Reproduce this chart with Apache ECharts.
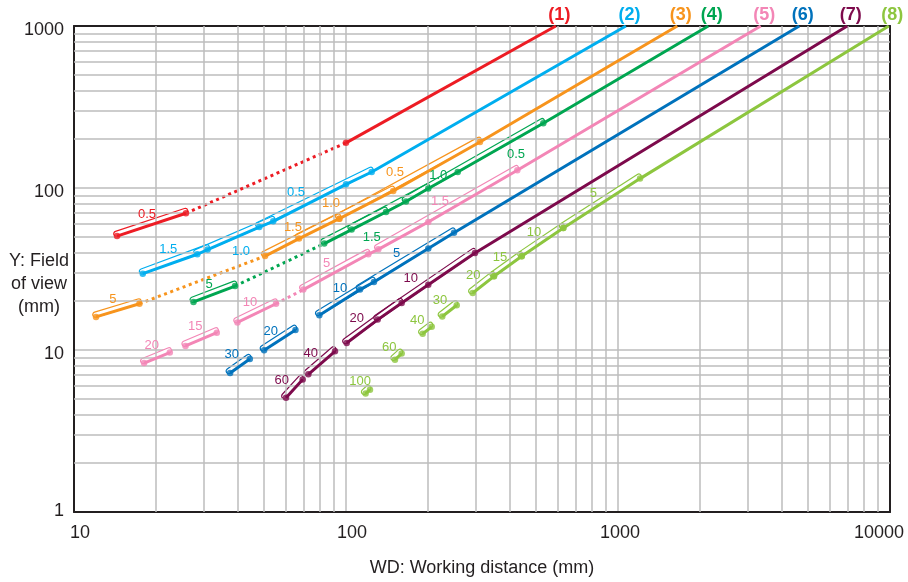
<!DOCTYPE html>
<html>
<head>
<meta charset="utf-8">
<script src="https://cdn.jsdelivr.net/npm/echarts@6/dist/echarts.min.js"></script>
<style>html,body{margin:0;padding:0;background:#fff}#c{width:908px;height:582px}</style>
</head>
<body>
<div id="c"></div>
<script>
// ---------- data ----------
const lensNames = ['(1)', '(2)', '(3)', '(4)', '(5)', '(6)', '(7)', '(8)'];
const xTicks = [10, 100, 1000, 10000];
const xTickLabels = ['10', '100', '1000', '10000'];
const yTicks = [1, 10, 100, 1000];
const yTickLabels = ['1', '10', '100', '1000'];
const xMinorTicks = [20, 30, 40, 50, 60, 70, 80, 90, 200, 300, 400, 500, 600, 700, 800, 900, 2000, 3000, 4000, 5000, 6000, 7000, 8000, 9000];
const yMinorTicks = [2, 3, 4, 5, 6, 7, 8, 9, 20, 30, 40, 50, 60, 70, 80, 90, 200, 300, 400, 500, 600, 700, 800, 900];

// solid runs: [lens, [[WD, FOV], ...]]
const solidRuns = [
  [0, [[14.4, 50.5], [25.8, 69.8]]],
  [0, [[100, 190], [591, 1000]]],
  [1, [[17.9, 29.6], [28.4, 39.0], [31.0, 41.7], [48.0, 57.4], [54.0, 62.3], [100, 105.4], [124.3, 125.5], [1069, 1000]]],
  [2, [[12.05, 16.0], [17.4, 19.3]]],
  [2, [[50.4, 38.0], [67.2, 48.7], [94.5, 64.7], [149.2, 95.8], [310.8, 192.3], [1652, 1000]]],
  [3, [[27.5, 19.8], [39.1, 24.8]]],
  [3, [[83.2, 45.4], [104.9, 55.4], [140.3, 71.1], [166.2, 82.5], [200.7, 99.2], [257.5, 125.5], [531.2, 250.8], [2148, 1000]]],
  [4, [[18.1, 8.3], [22.5, 9.64]]],
  [4, [[25.7, 10.6], [33.5, 12.8]]],
  [4, [[39.9, 14.8], [55.3, 19.3]]],
  [4, [[69.7, 23.6], [120.8, 39.0], [131.5, 41.8], [200.7, 61.7], [426.4, 128.6], [3347, 1000]]],
  [5, [[37.5, 7.21], [44.3, 8.8]]],
  [5, [[50.0, 9.96], [65.2, 13.3]]],
  [5, [[79.8, 16.4], [112.6, 23.6], [126.7, 26.3], [200.7, 42.3], [249.5, 53.0], [4640, 1000]]],
  [6, [[60.2, 5.08], [69.3, 6.57]]],
  [6, [[72.7, 7.08], [91.1, 9.82]]],
  [6, [[100.6, 11.05], [130.8, 15.4], [160.2, 19.5], [200.7, 25.3], [298, 39.7], [6966, 1000]]],
  [7, [[118.1, 5.38], [122.5, 5.69]]],
  [7, [[151.4, 8.72], [160.2, 9.5]]],
  [7, [[191.4, 12.6], [206.6, 13.9]]],
  [7, [[225.9, 16.1], [255.3, 18.9]]],
  [7, [[292.3, 22.5], [350, 28.5], [442.6, 37.9], [629.5, 56.6], [1205, 114.3], [9900, 1000]]]
];

// dotted runs: [lens, [[WD, FOV], ...]]
const dottedRuns = [
  [0, [[25.8, 69.8], [100, 190]]],
  [2, [[17.4, 19.3], [50.4, 38.0]]],
  [3, [[39.1, 24.8], [83.2, 45.4]]],
  [4, [[55.3, 19.3], [69.7, 23.6]]]
];

// extension tube ranges: [lens, WD1, FOV1, WD2, FOV2, label, labelWD, labelFOV]
const tubes = [
  [0, 14.4, 50.5, 25.8, 69.8, '0.5', 18.55, 68.8],
  [1, 17.9, 29.6, 31.0, 41.7, '1.5', 22.2, 41.7],
  [1, 28.4, 39.0, 54.0, 62.3, '1.0', 41.1, 40.8],
  [1, 48.0, 57.4, 124.3, 125.5, '0.5', 65.5, 93.7],
  [2, 12.05, 16.0, 17.4, 19.3, '5', 13.9, 20.6],
  [2, 50.4, 38.0, 94.5, 64.7, '1.5', 63.8, 57.0],
  [2, 67.2, 48.7, 149.2, 95.8, '1.0', 88.1, 80.5],
  [2, 94.5, 64.7, 310.8, 192.3, '0.5', 151.4, 124.1],
  [3, 27.5, 19.8, 39.1, 24.8, '5', 31.4, 25.4],
  [3, 83.2, 45.4, 140.3, 71.1, '1.5', 124.3, 49.8],
  [3, 104.9, 55.4, 200.7, 99.2, '1.0', 218.4, 119.8],
  [3, 166.2, 82.5, 531.2, 250.8, '0.5', 421.7, 161.4],
  [4, 18.1, 8.3, 22.5, 9.64, '20', 19.3, 10.6],
  [4, 25.7, 10.6, 33.5, 12.8, '15', 27.9, 13.9],
  [4, 39.9, 14.8, 55.3, 19.3, '10', 44.4, 19.8],
  [4, 69.7, 23.6, 120.8, 39.0, '5', 84.9, 34.1],
  [4, 131.5, 41.8, 426.4, 128.6, '1.5', 221.6, 83.2],
  [5, 37.5, 7.21, 44.3, 8.8, '30', 38.0, 9.41],
  [5, 50.0, 9.96, 65.2, 13.3, '20', 52.9, 13.1],
  [5, 79.8, 16.4, 126.7, 26.3, '10', 95.0, 23.9],
  [5, 112.6, 23.6, 249.5, 53.0, '5', 153.6, 39.7],
  [6, 60.2, 5.08, 69.3, 6.57, '60', 58.0, 6.5],
  [6, 72.7, 7.08, 91.1, 9.82, '40', 74.2, 9.58],
  [6, 100.6, 11.05, 160.2, 19.5, '20', 109.5, 15.6],
  [6, 130.8, 15.4, 298, 39.7, '10', 172.9, 27.6],
  [7, 118.1, 5.38, 122.5, 5.69, '100', 112.6, 6.44],
  [7, 151.4, 8.72, 160.2, 9.5, '60', 144.3, 10.4],
  [7, 191.4, 12.6, 206.6, 13.9, '40', 182.9, 15.3],
  [7, 225.9, 16.1, 255.3, 18.9, '30', 221.6, 20.1],
  [7, 292.3, 22.5, 350, 28.5, '20', 293.8, 28.9],
  [7, 350, 28.5, 442.6, 37.9, '15', 368.4, 37.5],
  [7, 442.6, 37.9, 629.5, 56.6, '10', 491.2, 52.9],
  [7, 629.5, 56.6, 1205, 114.3, '5', 811.4, 92.3]
];

// other marked points: [lens, WD, FOV]
const extraDots = [
  [0, 100, 190], [1, 100, 105.4], [3, 257.5, 125.5],
  [4, 200.7, 61.7], [5, 200.7, 42.3], [6, 200.7, 25.3]
];

// ---------- style ----------
const lensColors = ['#ed1c24', '#00aeef', '#f7941d', '#00a651', '#f386b6', '#0072bc', '#7d0a4c', '#8dc63f'];
const FONT = '"Liberation Sans", Arial, Helvetica, sans-serif';
const INK = '#231f20';
const GRIDC = '#bdbdbd';
const PILL_H = 5.2, PILL_OFF = 2.4, PILL_EXT = 2.6;

function pillGeom(api, t) {
  const p1 = api.coord([t[1], t[2]]);
  const p2 = api.coord([t[3], t[4]]);
  const dx = p2[0] - p1[0], dy = p2[1] - p1[1];
  const len = Math.sqrt(dx * dx + dy * dy);
  return {
    x: p1[0], y: p1[1], rotation: -Math.atan2(dy, dx),
    shape: { x: -PILL_EXT, y: -PILL_OFF - PILL_H / 2, width: len + 2 * PILL_EXT, height: PILL_H, r: PILL_H / 2 }
  };
}

const series = [];

// minor grid lines
series.push({
  type: 'line', data: [[10, 1]], showSymbol: false, lineStyle: { width: 0 }, silent: true, z: 1,
  markLine: {
    silent: true, symbol: ['none', 'none'], label: { show: false }, animation: false,
    lineStyle: { color: GRIDC, width: 1.5, type: 'solid' },
    emphasis: { disabled: true },
    data: xMinorTicks.map(v => ({ xAxis: v })).concat(yMinorTicks.map(v => ({ yAxis: v })))
  }
});

const tubeData = tubes.map(t => [t[1], t[2], t[3], t[4]]);
// pill fills
series.push({
  type: 'custom', z: 2, silent: true, data: tubeData, encode: { x: [0, 2], y: [1, 3] },
  renderItem: function (params, api) {
    const g = pillGeom(api, tubes[params.dataIndex]);
    return Object.assign({ type: 'rect', style: { fill: '#ffffff', stroke: null } }, g);
  }
});
// pill outlines
series.push({
  type: 'custom', z: 3, silent: true, data: tubeData, encode: { x: [0, 2], y: [1, 3] },
  renderItem: function (params, api) {
    const t = tubes[params.dataIndex];
    const g = pillGeom(api, t);
    return Object.assign({ type: 'rect', style: { fill: null, stroke: lensColors[t[0]], lineWidth: 1.2 } }, g);
  }
});

// dotted runs
dottedRuns.forEach(r => {
  series.push({
    type: 'line', data: r[1], showSymbol: false, silent: true, z: 4,
    lineStyle: { color: lensColors[r[0]], width: 3, type: [3, 3.6] }
  });
});

// solid runs
solidRuns.forEach(r => {
  series.push({
    type: 'line', data: r[1], showSymbol: false, silent: true, z: 5,
    lineStyle: { color: lensColors[r[0]], width: 3 }
  });
});

// dots
const dotData = [];
tubes.forEach(t => {
  dotData.push({ value: [t[1], t[2]], itemStyle: { color: lensColors[t[0]] } });
  dotData.push({ value: [t[3], t[4]], itemStyle: { color: lensColors[t[0]] } });
});
extraDots.forEach(d => dotData.push({ value: [d[1], d[2]], itemStyle: { color: lensColors[d[0]] } }));
series.push({ type: 'scatter', data: dotData, symbol: 'circle', symbolSize: 6.5, silent: true, z: 6 });

// tube labels
series.push({
  type: 'custom', z: 7, silent: true, data: tubes.map(t => [t[6], t[7]]),
  renderItem: function (params, api) {
    const t = tubes[params.dataIndex];
    const p = api.coord([api.value(0), api.value(1)]);
    return {
      type: 'text', x: p[0], y: p[1],
      style: { text: t[5], fill: lensColors[t[0]], font: '13px ' + FONT, align: 'center', verticalAlign: 'middle' }
    };
  }
});

// lens name labels at the end of each lens line
const lensEnds = lensNames.map((n, i) => {
  const runs = solidRuns.filter(r => r[0] === i);
  const pts = runs[runs.length - 1][1];
  return pts[pts.length - 1];
});
series.push({
  type: 'custom', z: 7, silent: true, data: lensEnds,
  renderItem: function (params, api) {
    const p = api.coord([api.value(0), api.value(1)]);
    return {
      type: 'text', x: p[0] + 3.5, y: p[1] - 11,
      style: { text: lensNames[params.dataIndex], fill: lensColors[params.dataIndex], font: 'bold 18px ' + FONT, align: 'center', verticalAlign: 'middle' }
    };
  }
});

const axisCommon = {
  type: 'log', logBase: 10,
  axisTick: { show: false },
  axisLine: { show: true, onZero: false, lineStyle: { color: INK, width: 2 } },
  splitLine: { show: true, showMinLine: false, showMaxLine: false, lineStyle: { color: GRIDC, width: 1.5 } },
  minorTick: { show: false }, minorSplitLine: { show: false }
};

const tickText = { color: INK, fontSize: 18, fontFamily: FONT };
const xRich = {
  x0: Object.assign({ padding: [0, 0, 0, 12] }, tickText),
  x1: Object.assign({ padding: [0, 0, 0, 12] }, tickText),
  x2: Object.assign({ padding: [0, 0, 0, 4] }, tickText),
  x3: Object.assign({ padding: [0, 22, 0, 0] }, tickText)
};
const yRich = {
  y0: Object.assign({ padding: [0, 0, 2, 0] }, tickText),
  y1: Object.assign({ padding: [8, 0, 0, 0] }, tickText),
  y2: Object.assign({ padding: [8, 0, 0, 0] }, tickText),
  y3: Object.assign({ padding: [8, 0, 0, 0] }, tickText)
};
function nearestIdx(arr, v) {
  let best = 0;
  arr.forEach((a, i) => { if (Math.abs(Math.log10(a) - Math.log10(v)) < Math.abs(Math.log10(arr[best]) - Math.log10(v))) best = i; });
  return best;
}

const option = {
  animation: false,
  backgroundColor: '#ffffff',
  grid: { left: 74, right: 18, top: 26, bottom: 70, containLabel: false, outerBoundsMode: 'none' },
  xAxis: [
    Object.assign({}, axisCommon, {
      min: xTicks[0], max: xTicks[xTicks.length - 1], position: 'bottom',
      axisLabel: Object.assign({ margin: 12, rich: xRich, formatter: v => { const i = nearestIdx(xTicks, v); return '{x' + i + '|' + xTickLabels[i] + '}'; } }, tickText),
      name: 'WD: Working distance (mm)', nameLocation: 'middle', nameGap: 47,
      nameTextStyle: { color: INK, fontSize: 18, fontFamily: FONT }
    }),
    Object.assign({}, axisCommon, {
      min: xTicks[0], max: xTicks[xTicks.length - 1], position: 'top',
      axisLabel: { show: false }, splitLine: { show: false }
    })
  ],
  yAxis: [
    Object.assign({}, axisCommon, {
      min: yTicks[0], max: yTicks[yTicks.length - 1], position: 'left',
      axisLabel: Object.assign({ margin: 10, rich: yRich, formatter: v => { const i = nearestIdx(yTicks, v); return '{y' + i + '|' + yTickLabels[i] + '}'; } }, tickText)
    }),
    Object.assign({}, axisCommon, {
      min: yTicks[0], max: yTicks[yTicks.length - 1], position: 'right',
      axisLabel: { show: false }, splitLine: { show: false }
    })
  ],
  graphic: [{
    type: 'text', x: 39, y: 249.5, silent: true,
    style: { text: 'Y: Field\nof view\n(mm)', align: 'center', verticalAlign: 'top', font: '18px ' + FONT, fill: INK, lineHeight: 23 }
  }],
  series: series
};

const chart = echarts.init(document.getElementById('c'), null, { renderer: 'canvas' });
chart.setOption(option);
</script>
</body>
</html>
